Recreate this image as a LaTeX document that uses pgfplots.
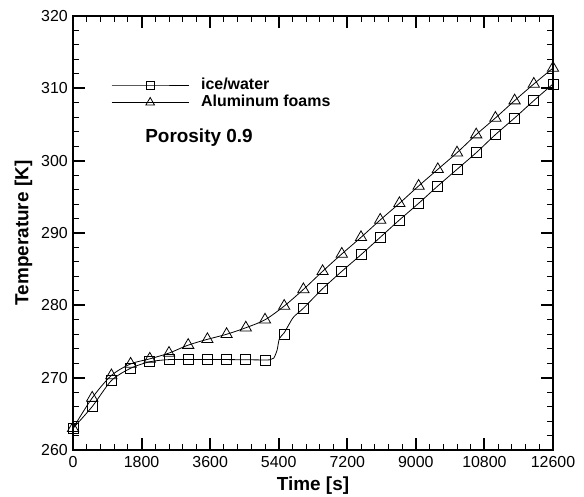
\documentclass[border=0pt]{standalone}
\usepackage{fontspec}
\setmainfont{Liberation Sans}
\usepackage{pgfplots}
\pgfplotsset{compat=1.18}

% marker samples, every 504 s
\pgfplotstableread{
t T
0 263.0
504 266.0
1008 269.6
1512 271.3
2016 272.2
2520 272.5
3024 272.5
3528 272.5
4032 272.5
4536 272.5
5040 272.45
5544 276.0
6048 279.6
6552 282.3
7056 284.7
7560 287.0
8064 289.4
8568 291.8
9072 294.1
9576 296.5
10080 298.8
10584 301.1
11088 303.6
11592 305.9
12096 308.3
12600 310.6
}\icemarks

\pgfplotstableread{
t T
0 263.0
504 267.2
1008 270.3
1512 271.9
2016 272.6
2520 273.4
3024 274.5
3528 275.3
4032 276.0
4536 276.9
5040 278.0
5544 279.9
6048 282.2
6552 284.7
7056 287.1
7560 289.4
8064 291.8
8568 294.1
9072 296.5
9576 298.8
10080 301.1
10584 303.6
11088 305.9
11592 308.3
12096 310.6
12600 312.8
}\alumarks

% ice curve read more densely around the melt jump
\pgfplotstableread{
t T
0 263.0
504 266.0
1008 269.6
1512 271.3
2016 272.2
2520 272.5
3024 272.5
4032 272.5
5040 272.45
5180 272.5
5270 272.7
5357 273.8
5418 275.4
5544 276.2
5663 277.3
5794 278.4
6048 279.6
6552 282.3
7056 284.7
7560 287.0
8064 289.4
8568 291.8
9072 294.1
9576 296.5
10080 298.8
10584 301.1
11088 303.6
11592 305.9
12096 308.3
12600 310.6
}\iceline

\begin{document}
\begin{tikzpicture}
\begin{axis}[
    width=480bp, height=434bp,
    scale only axis,
    xmin=0, xmax=12600,
    ymin=260, ymax=320,
    xtick={0,1800,...,12600},
    ytick={260,270,...,320},
    scaled x ticks=false,
    minor x tick num=4,
    minor y tick num=4,
    tick align=inside,
    major tick length=12bp,
    minor tick length=6bp,
    every major tick/.style={line width=2bp, black},
    every minor tick/.style={line width=0.9bp, black},
    axis line style={line width=2.5bp},
    xticklabel style={anchor=north, inner sep=0pt, yshift=-6bp},
    yticklabel style={anchor=east, inner sep=0pt, xshift=-5bp},
    /pgf/number format/assume math mode=true,
    /pgf/number format/1000 sep={},
    tick label style={font=\fontsize{16}{18}\selectfont},
    xlabel={Time [s]},
    ylabel={Temperature [K]},
    label style={font=\fontsize{19}{21}\selectfont\bfseries},
    xlabel style={at={(rel axis cs:0.5,0)}, anchor=base, inner sep=0pt, yshift=-40bp},
    ylabel style={at={(rel axis cs:0,0.5)}, anchor=base, inner sep=0pt, yshift=44.5bp},
    clip mode=individual,
    legend image code/.code={%
        \draw[mark repeat=2,mark phase=2,#1]
        plot coordinates {(0bp,0bp) (38.5bp,0bp) (77bp,0bp)};},
    legend style={draw=none, fill=none, at={(axis cs:1000,309.25)}, anchor=west,
        inner sep=0pt, row sep=3bp,
        nodes={inner sep=0pt, text height=11.5bp, text depth=3bp},
        cells={anchor=west},
        font=\fontsize{16}{18}\selectfont\bfseries},
    legend cell align=left,
]
\addlegendimage{black, line width=0.8bp, mark=square, mark size=4bp, mark options={solid}}
\addlegendentry{\hspace{12bp}ice/water}
\addlegendimage{black, line width=0.8bp, mark=triangle, mark size=5bp, mark options={solid}}
\addlegendentry{\hspace{12bp}Aluminum foams}

\addplot[black, line width=0.8bp, smooth, tension=0.45, forget plot] table[x=t, y=T] {\iceline};
\addplot[black, line width=0.8bp, smooth, tension=0.5, forget plot] table[x=t, y=T] {\alumarks};
\addplot[black, only marks, mark=square, mark size=5bp, line width=0.8bp, forget plot] table[x=t, y=T] {\icemarks};
\addplot[black, only marks, mark=triangle, mark size=6.5bp, line width=0.8bp, forget plot] table[x=t, y=T] {\alumarks};

\node[anchor=base west, inner sep=0pt, font=\fontsize{19}{21}\selectfont\bfseries]
    at (axis cs:1894,302.45) {Porosity 0.9};
\end{axis}
\pgfresetboundingbox
\path[use as bounding box] (-73bp,-47bp) rectangle (511bp,450bp);
\end{tikzpicture}
\end{document}
